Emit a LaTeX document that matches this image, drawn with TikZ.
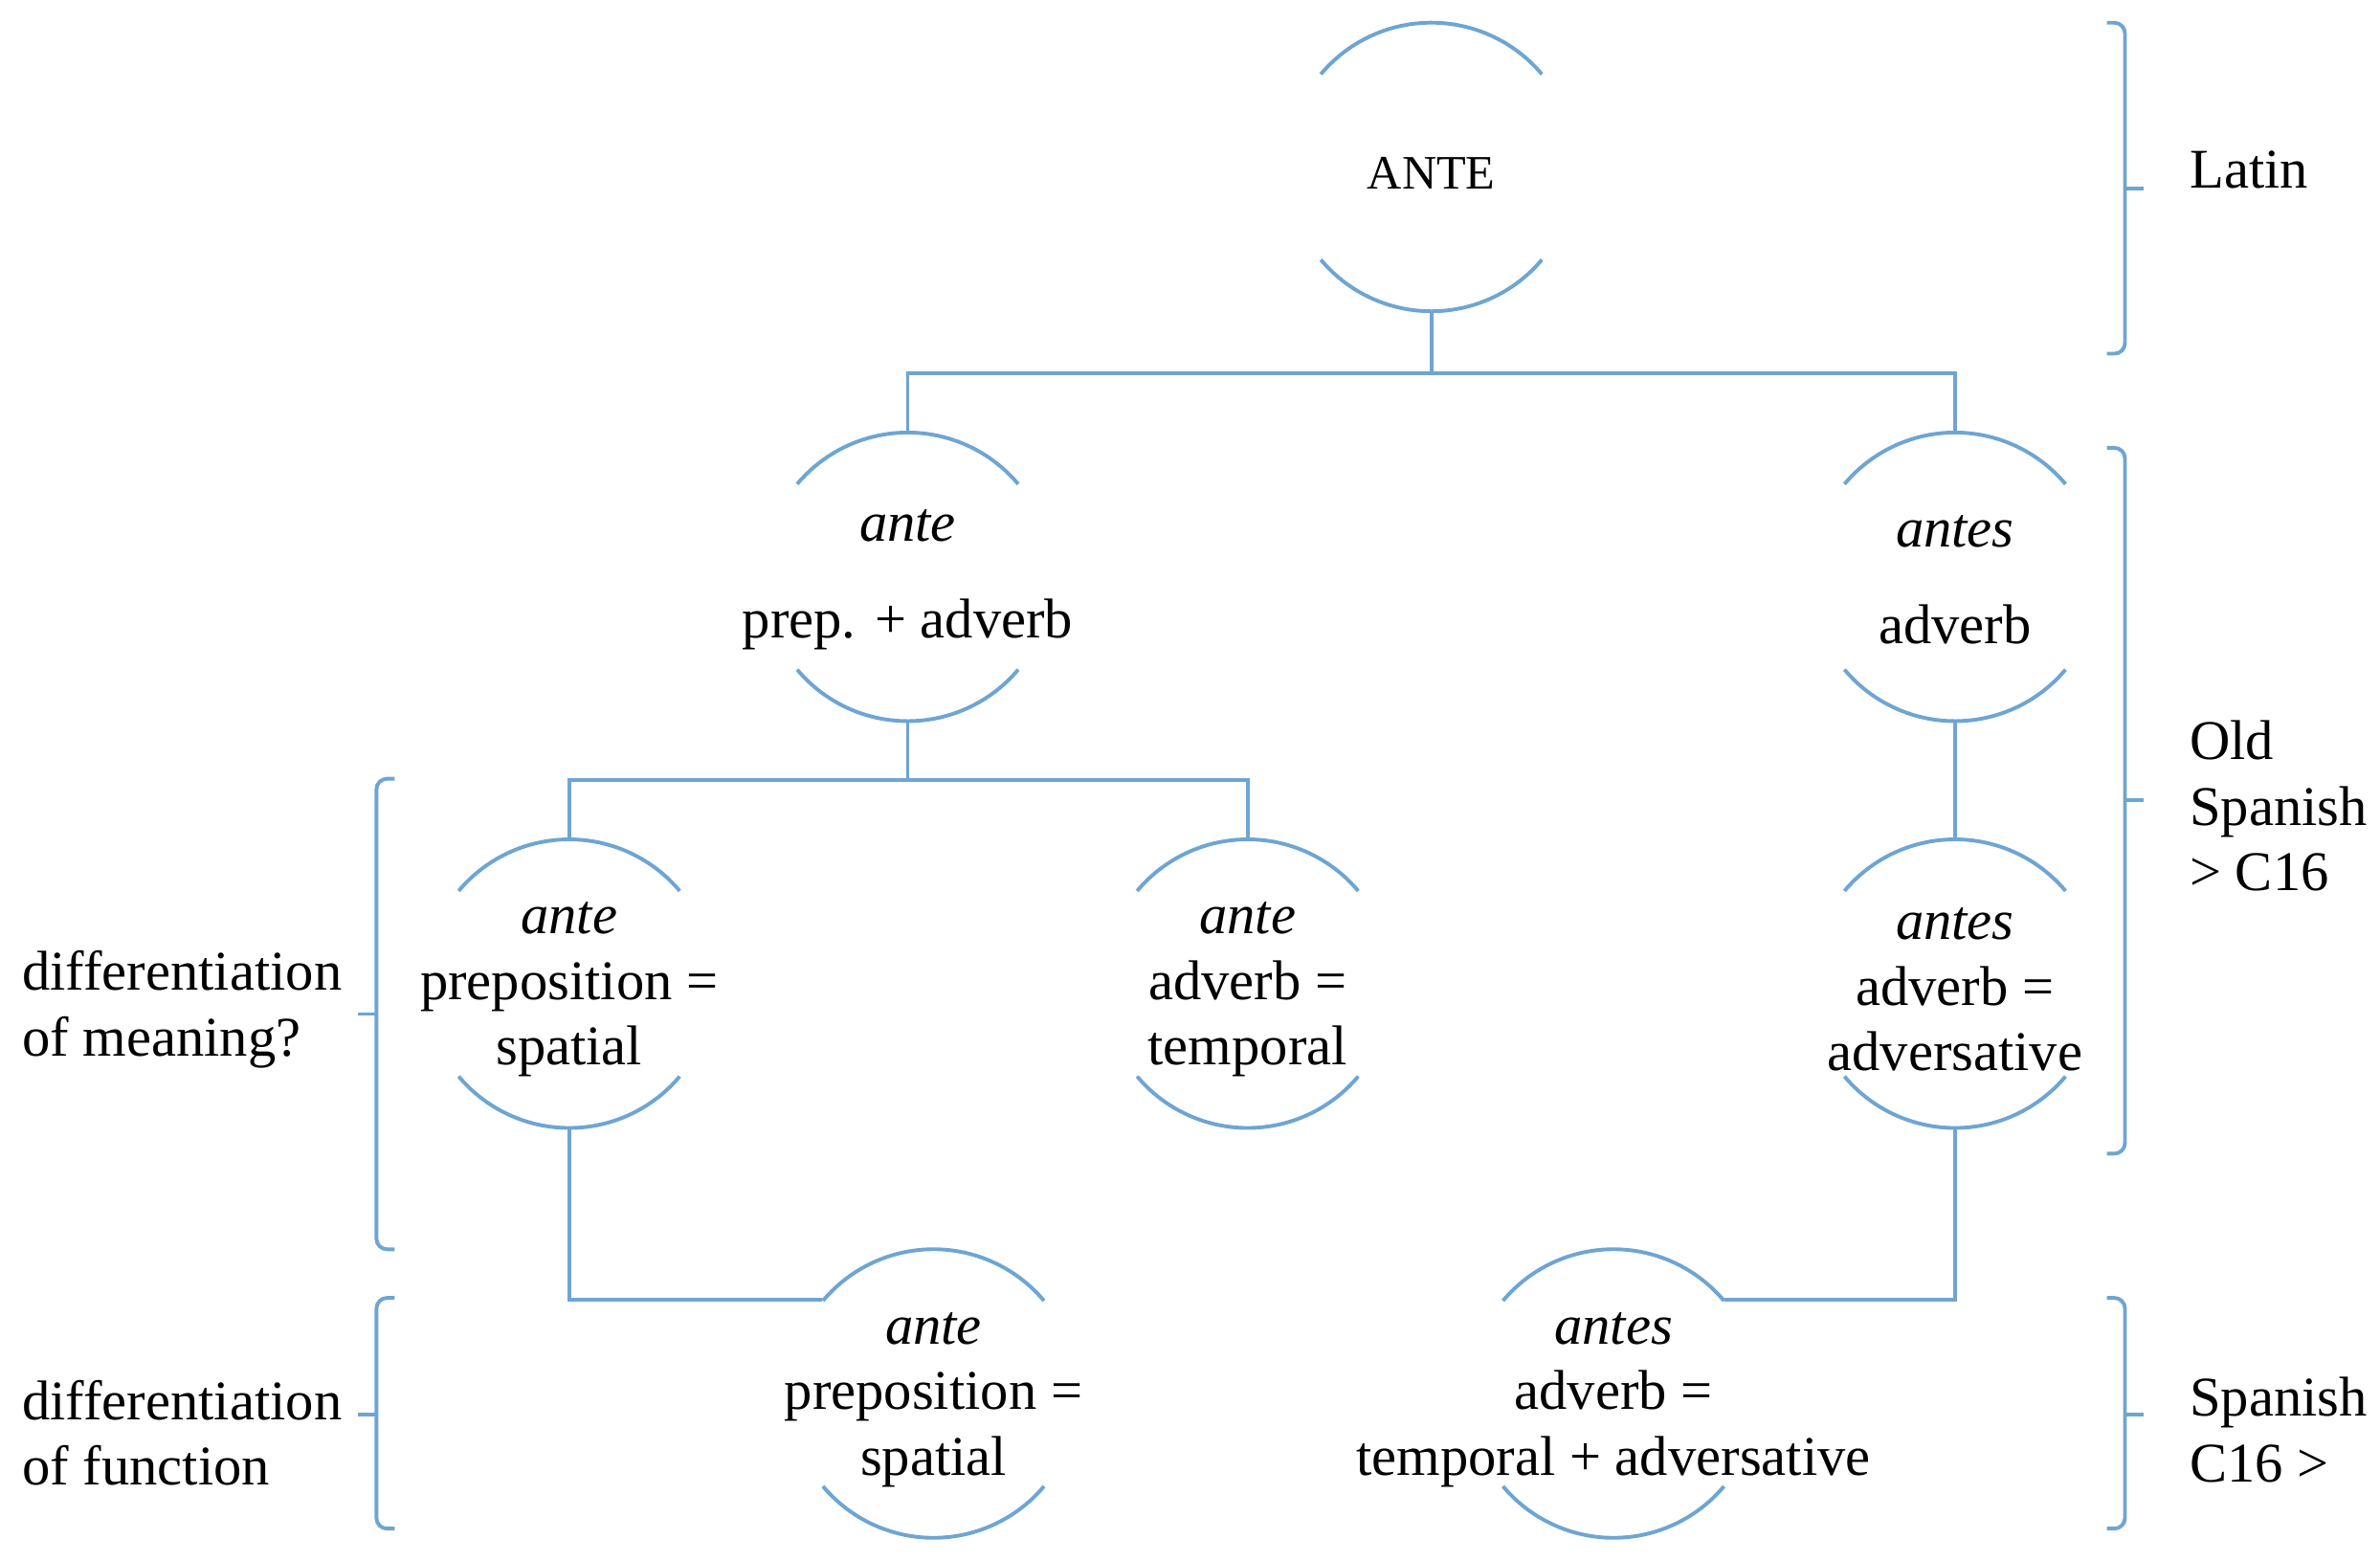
\documentclass[tikz,border=0pt]{standalone}
\usepackage{fontspec}
\setmainfont{Liberation Serif}
\usetikzlibrary{calc}

\definecolor{lineblue}{RGB}{110,165,210}

\tikzset{
    bubble/.style={circle, minimum size=1.9cm, inner sep=0pt, draw=none},
    word/.style={align=center, inner sep=0pt, font=\fontsize{10.5}{12.3}\selectfont},
    side/.style={align=left, anchor=west, inner sep=0pt, font=\fontsize{10.5}{12.3}\selectfont},
    link/.style={lineblue, line width=0.7pt},
}

\newcommand{\halfarcs}[1]{%
    \draw[link] (#1.center) ++(40:0.95cm) arc[start angle=40, end angle=140, radius=0.95cm];
    \draw[link] (#1.center) ++(220:0.95cm) arc[start angle=220, end angle=320, radius=0.95cm];
}

\begin{document}
\begin{tikzpicture}[x=0.01cm, y=-0.01cm]
        \useasboundingbox (0,0) rectangle (1568,1028);

        % circles
        \node[bubble] (ANTE) at (943,110) {};
        \node[bubble] (ante) at (598,380) {};
        \node[bubble] (antes) at (1288,380) {};
        \node[bubble] (spat) at (375,648) {};
        \node[bubble] (temp) at (822,648) {};
        \node[bubble] (adver) at (1288,648) {};
        \node[bubble] (prep) at (615,918) {};
        \node[bubble] (both) at (1063,918) {};

        \foreach \n in {ANTE, ante, antes, spat, temp, adver, prep, both} {
            \halfarcs{\n}
        }

        % texts
        \node[word, font=\fontsize{9}{11}\selectfont] (ANTE-t) at (943,114) {ANTE};
        \node[word] (ante-t) at (598,382) {\textit{ante}\\[0.2cm]prep. + adverb};
        \node[word] (antes-t) at (1288,382) {\textit{antes}\\[0.2cm]adverb};
        \node[word] (spat-t) at (375,652) {\textit{ante}\\preposition =\\spatial};
        \node[word] (temp-t) at (822,652) {\textit{ante}\\adverb =\\temporal};
        \node[word] (adver-t) at (1288,652) {\textit{antes}\\adverb =\\adversative};
        \node[word] (prep-t) at (615,922) {\textit{ante}\\preposition =\\spatial};
        \node[word] (both-t) at (1063,922) {\textit{antes}\\adverb =\\temporal + adversative};

        % tree
        \draw[link] (ANTE.south) -- ++(0,40) -| (ante.north);
        \draw[link] (ANTE.south) ++(0,40) -| (antes.north);
        \draw[link] (ante.south) -- ++(0,38) -| (spat.north);
        \draw[link] (ante.south) ++(0,38) -| (temp.north);
        \draw[link] (antes.south) -- (adver.north);
        \draw[link] (spat.south) |- (prep.140);
        \draw[link] (adver.south) |- (both.40);

        % brackets
        \draw[link, rounded corners=2pt] (1388,15) -- (1400,15) -- (1400,233) -- (1388,233);
        \draw[link] (1400,124) -- (1412,124);
        \draw[link, rounded corners=2pt] (1388,295) -- (1400,295) -- (1400,760) -- (1388,760);
        \draw[link] (1400,527) -- (1412,527);
        \draw[link, rounded corners=2pt] (1388,855) -- (1400,855) -- (1400,1007) -- (1388,1007);
        \draw[link] (1400,932) -- (1412,932);
        \draw[link, rounded corners=2pt] (260,513) -- (248,513) -- (248,823) -- (260,823);
        \draw[link] (248,668) -- (236,668);
        \draw[link, rounded corners=2pt] (260,855) -- (248,855) -- (248,1007) -- (260,1007);
        \draw[link] (248,932) -- (236,932);

        % side labels
        \node[side] (latin) at (1442,112) {Latin};
        \node[side] (old) at (1442,531) {Old\\Spanish\\> C16};
        \node[side] (span) at (1442,942) {Spanish\\C16 >};
        \node[side] (meaning) at (14,665) {differentiation\\of meaning?};
        \node[side] (function) at (14,944) {differentiation\\of function};
\end{tikzpicture}
\end{document}
